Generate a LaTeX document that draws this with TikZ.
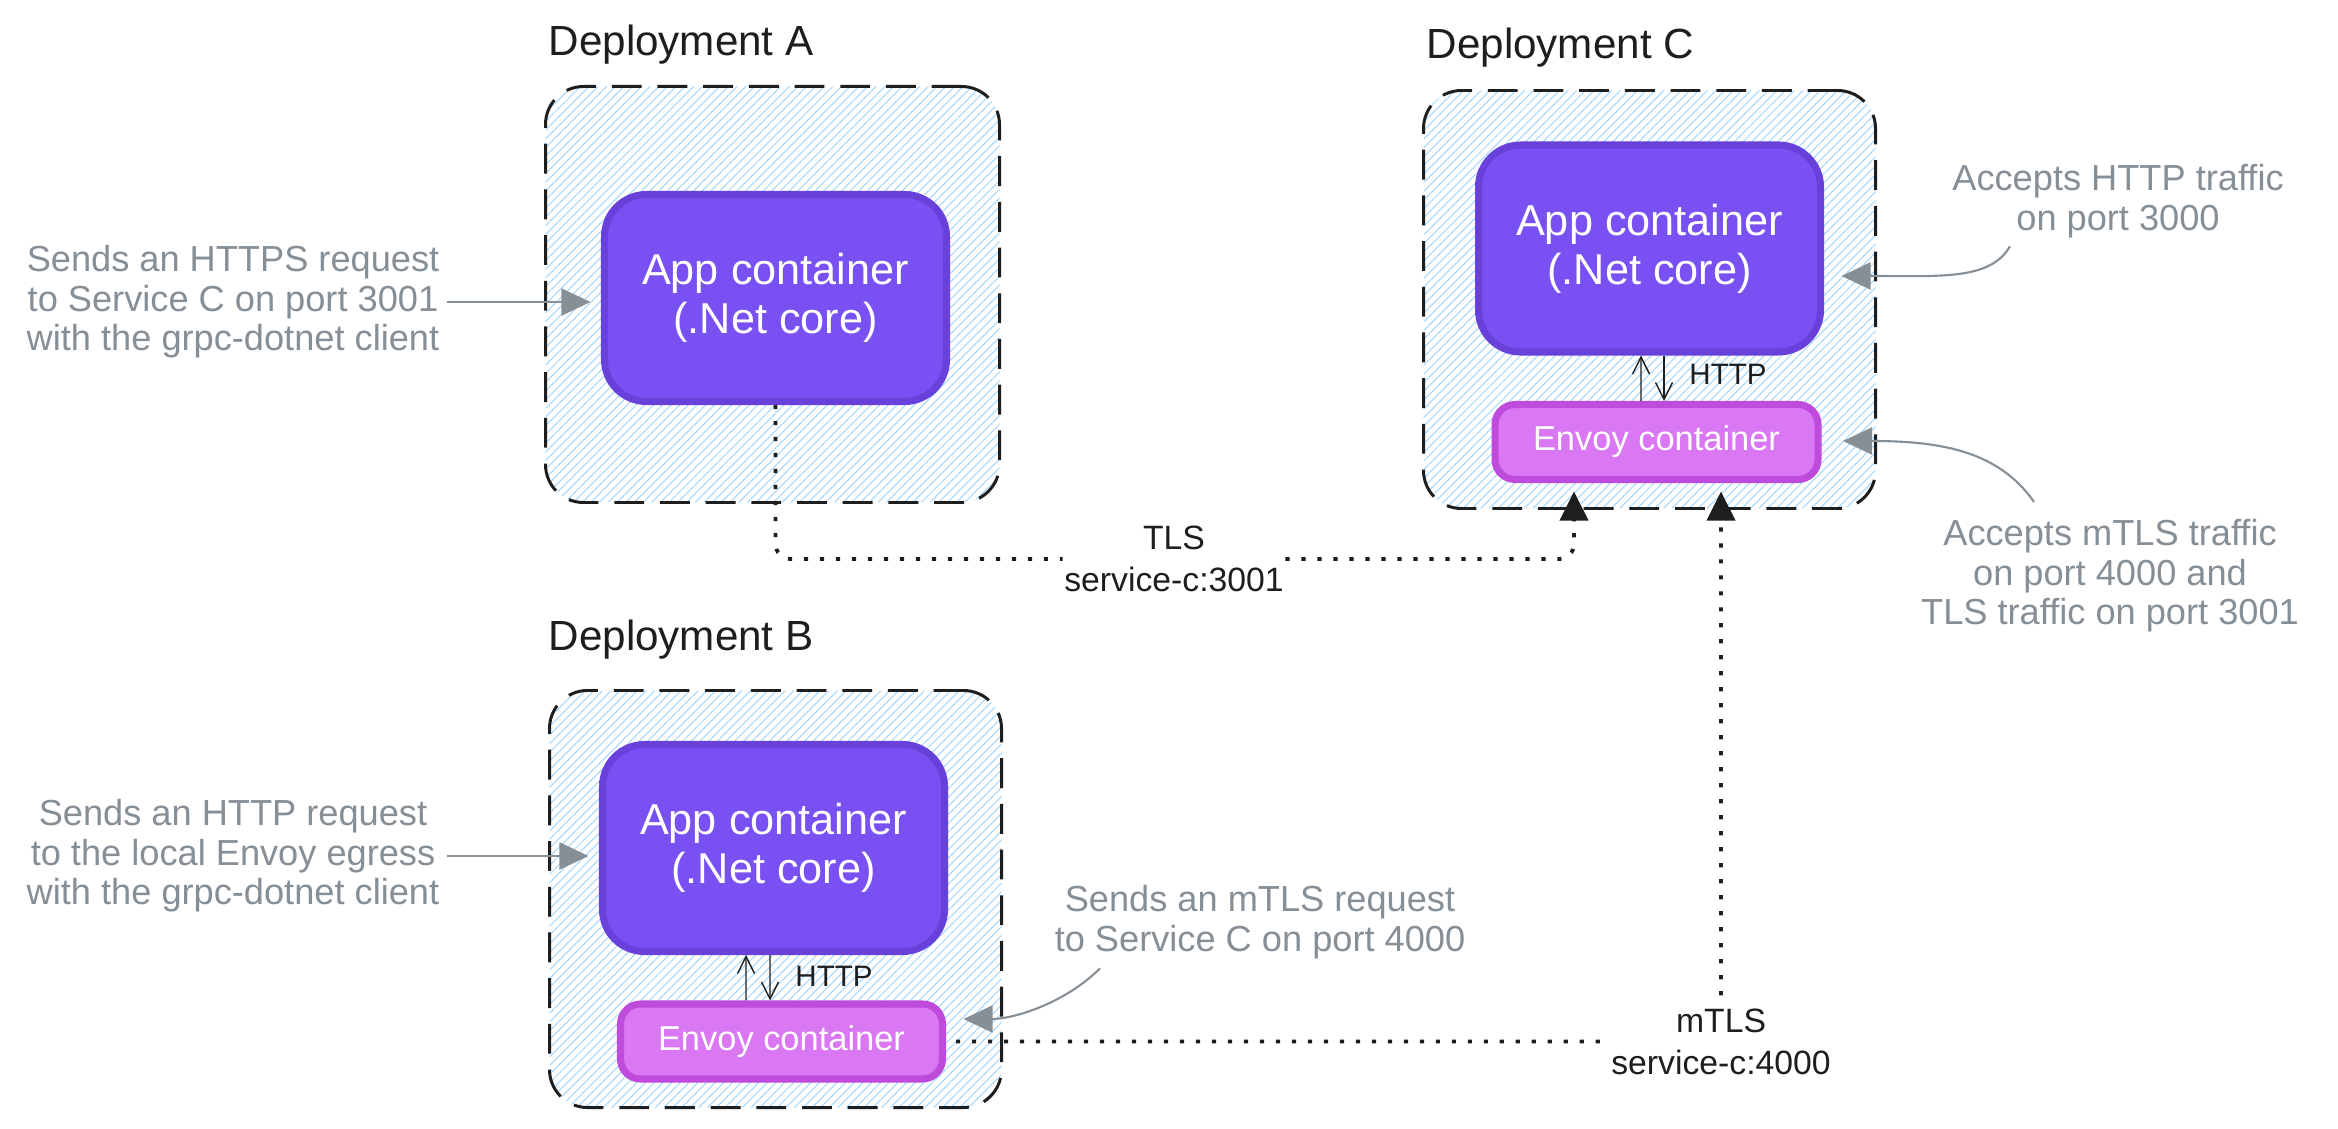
\documentclass[tikz,border=0pt]{standalone}
\usepackage{fontspec}
\setmainfont{Liberation Sans}
\usetikzlibrary{arrows.meta,patterns.meta,calc}
\definecolor{appfill}{HTML}{7950F2}
\definecolor{appline}{HTML}{6741D9}
\definecolor{envfill}{HTML}{DA77F2}
\definecolor{envline}{HTML}{BE4BDB}
\definecolor{notegray}{HTML}{868E96}
\definecolor{hatch}{HTML}{A5D8FF}
\definecolor{ink}{HTML}{1E1E1E}
\tikzset{
	deploy/.style={draw=ink, line width=0.85pt, dash pattern=on 8.5pt off 4.5pt, rounded corners=0.38cm,
		pattern={Lines[angle=45,distance=1.75pt,line width=0.3pt]}, pattern color=hatch, inner sep=0},
	app/.style={draw=appline, fill=appfill, line width=2pt, rounded corners=0.42cm, text=white, align=center,
		font=\fontsize{12.3}{14}\selectfont, inner sep=0, minimum width=3.42cm, minimum height=2.07cm},
	envoy/.style={draw=envline, fill=envfill, line width=2pt, rounded corners=0.2cm, text=white,
		font=\fontsize{9.8}{11}\selectfont, inner sep=0, minimum width=3.23cm, minimum height=0.75cm},
	title/.style={text=ink, font=\fontsize{12}{14}\selectfont, anchor=base west, inner sep=0},
	note/.style={text=notegray, font=\fontsize{10.3}{11.24}\selectfont, align=center, inner sep=0},
	notearrow/.style={draw=notegray, line width=0.6pt, -{Triangle[length=0.29cm,width=0.27cm]}},
	wire/.style={draw=ink, line width=1.1pt, dash pattern=on 1.2pt off 3.35pt, -{Triangle[length=0.29cm,width=0.28cm]}},
	wirelabel/.style={text=ink, font=\fontsize{9.6}{12}\selectfont, align=center},
	httparrow/.style={draw=ink, line width=0.4pt, -{Straight Barb[length=0.17cm,width=0.17cm]}},
	httplabel/.style={text=ink, font=\fontsize{8.4}{10}\selectfont, inner sep=0}
}

\begin{document}
\begin{tikzpicture}
	%%%%% START %%%%%
	\fill[white] (0, 0) rectangle (23.38, 11.28);
	
	% deployments
	\node[deploy, minimum width=4.54cm, minimum height=4.16cm] (boxA) at (7.725, 8.335) {};
	\node[deploy, minimum width=4.52cm, minimum height=4.18cm] (boxC) at (16.495, 8.285) {};
	\node[deploy, minimum width=4.52cm, minimum height=4.17cm] (boxB) at (7.755, 2.29) {};
	\node[title] (titleA) at (5.48, 10.72) {Deployment A};
	\node[title] (titleC) at (14.26, 10.69) {Deployment C};
	\node[title] (titleB) at (5.48, 4.78) {Deployment B};
	
	% containers
	\node[app] (appA) at (7.755, 8.30) {App container\\(.Net core)};
	\node[app] (appC) at (16.495, 8.795) {App container\\(.Net core)};
	\node[envoy] (envC) at (16.565, 6.86) {Envoy container};
	\node[app] (appB) at (7.735, 2.80) {App container\\(.Net core)};
	\node[envoy, minimum width=3.22cm] (envB) at (7.815, 0.865) {Envoy container};
	
	% http between app and envoy
	\draw[httparrow] ($(envC.north)+(-0.155,0)$) -- ($(appC.south)+(-0.085,0)$);
	\draw[httparrow] ($(appC.south)+(0.145,0)$) -- ($(envC.north)+(0.075,0)$);
	\node[httplabel] (httpC) at (17.28, 7.54) {HTTP};
	\draw[httparrow] ($(envB.north)+(-0.355,0)$) -- ($(appB.south)+(-0.275,0)$);
	\draw[httparrow] ($(appB.south)+(-0.035,0)$) -- ($(envB.north)+(-0.115,0)$);
	\node[httplabel] (httpB) at (8.34, 1.52) {HTTP};
	
	% traffic to deployment C
	\coordinate (tlsin) at ($(envC.south)+(-0.825,-0.085)$);
	\coordinate (mtlsin) at ($(envC.south)+(0.645,-0.085)$);
	\node[wirelabel, inner xsep=0.01cm, inner ysep=0.05cm] (tls) at (11.74, 5.69) {TLS\\service-c:3001};
	\node[wirelabel, inner xsep=0.06cm, inner ysep=0.125cm] (mtls) at (17.21, 0.865) {mTLS\\service-c:4000};
	\draw[wire, rounded corners=0.15cm] (appA.south) |- (tls) -| (tlsin);
	\draw[wire] ([xshift=0.1cm]envB.east) -- (mtls) -- (mtlsin);
	
	% notes
	\node[note] (noteA) at (2.33, 8.26) {Sends an HTTPS request\\to Service C on port 3001\\with the grpc-dotnet client};
	\draw[notearrow] ([xshift=2pt]noteA.east) -- ([xshift=-3pt]noteA.east -| appA.west);
	
	\node[note] (noteB) at (2.33, 2.72) {Sends an HTTP request\\to the local Envoy egress\\with the grpc-dotnet client};
	\draw[notearrow] ([xshift=2pt]noteB.east) -- ([xshift=-3pt]noteB.east -| appB.west);
	
	\node[note] (noteC1) at (21.18, 9.27) {Accepts HTTP traffic\\on port 3000};
	\draw[notearrow] ($(noteC1.south)+(-1.08,-0.08)$) .. controls +(-0.2,-0.34) and +(1.0,0) .. ($(appC.east)+(0.175,-0.275)$);
	
	\node[note] (noteC2) at (21.10, 5.52) {Accepts mTLS traffic\\on port 4000 and\\TLS traffic on port 3001};
	\draw[notearrow] ($(noteC2.north)+(-0.76,0.17)$) .. controls +(-0.35,0.5) and +(1.0,0) .. ($(envC.east)+(0.215,0.01)$);
	
	\node[note] (noteM) at (12.60, 2.06) {Sends an mTLS request\\to Service C on port 4000};
	\draw[notearrow] ($(noteM.south)+(-1.60,-0.09)$) .. controls +(-0.35,-0.35) and +(0.5,0) .. ($(envB.east)+(0.175,0.225)$);
	%%%%% END %%%%%
\end{tikzpicture}
\end{document}
